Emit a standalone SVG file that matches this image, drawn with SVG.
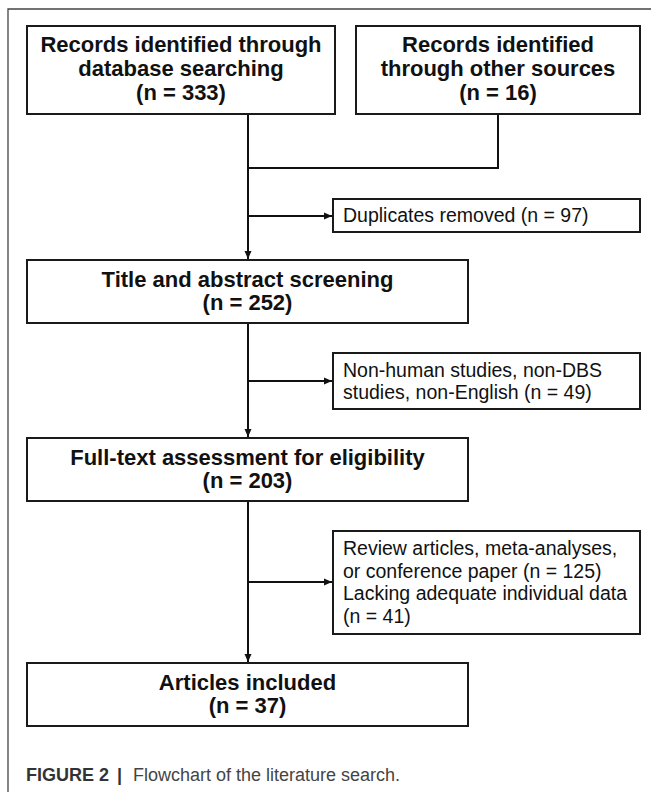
<svg xmlns="http://www.w3.org/2000/svg" width="651" height="792" viewBox="0 0 651 792">
<defs>
<style>
.box{fill:#fff;stroke:#1a1a1a;stroke-width:2}
.b{font-family:"Liberation Sans",Arial,sans-serif;font-weight:bold;font-size:22px;fill:#111;text-anchor:middle}
.r{font-family:"Liberation Sans",Arial,sans-serif;font-size:19.5px;fill:#111}
.ln{fill:none;stroke:#111;stroke-width:2}
</style>
<marker id="ah" markerUnits="userSpaceOnUse" markerWidth="9" markerHeight="8" refX="8" refY="4" orient="auto">
<path d="M0,0.5 L8,4 L0,7.5 Z" fill="#111"/>
</marker>
</defs>
<rect width="651" height="792" fill="#fff"/>
<path d="M8,792 V9 H651" fill="none" stroke="#444" stroke-width="1.3"/>

<g id="connectors">
<path class="ln" d="M248,114 V259" marker-end="url(#ah)"/>
<path class="ln" d="M498,114 V168 H248"/>
<path class="ln" d="M248,216 H332" marker-end="url(#ah)"/>
<path class="ln" d="M248,323 V437" marker-end="url(#ah)"/>
<path class="ln" d="M248,381 H332" marker-end="url(#ah)"/>
<path class="ln" d="M248,501 V662" marker-end="url(#ah)"/>
<path class="ln" d="M248,582 H332" marker-end="url(#ah)"/>
</g>

<g id="n1">
<rect class="box" x="27" y="26" width="308" height="88"/>
<text class="b" x="181" y="52">Records identified through</text>
<text class="b" x="181" y="76">database searching</text>
<text class="b" x="181" y="100">(n = 333)</text>
</g>
<g id="n2">
<rect class="box" x="356" y="26" width="284" height="88"/>
<text class="b" x="498" y="52">Records identified</text>
<text class="b" x="498" y="76">through other sources</text>
<text class="b" x="498" y="100">(n = 16)</text>
</g>
<g id="n3">
<rect class="box" x="333" y="199" width="307" height="33"/>
<text class="r" x="343" y="222">Duplicates removed (n = 97)</text>
</g>
<g id="n4">
<rect class="box" x="27" y="260" width="441" height="63"/>
<text class="b" x="247.5" y="287">Title and abstract screening</text>
<text class="b" x="247.5" y="310">(n = 252)</text>
</g>
<g id="n5">
<rect class="box" x="333" y="353" width="307" height="56"/>
<text class="r" x="343" y="377">Non-human studies, non-DBS</text>
<text class="r" x="343" y="399">studies, non-English (n = 49)</text>
</g>
<g id="n6">
<rect class="box" x="27" y="438" width="441" height="63"/>
<text class="b" x="247.5" y="465">Full-text assessment for eligibility</text>
<text class="b" x="247.5" y="488">(n = 203)</text>
</g>
<g id="n7">
<rect class="box" x="333" y="531" width="307" height="103"/>
<text class="r" x="343" y="555">Review articles, meta-analyses,</text>
<text class="r" x="343" y="577.5">or conference paper (n = 125)</text>
<text class="r" x="343" y="600">Lacking adequate individual data</text>
<text class="r" x="343" y="622.5">(n = 41)</text>
</g>
<g id="n8">
<rect class="box" x="27" y="663" width="441" height="63"/>
<text class="b" x="247.5" y="690">Articles included</text>
<text class="b" x="247.5" y="713">(n = 37)</text>
</g>

<g id="caption" font-family="'Liberation Sans',Arial,sans-serif" font-size="18">
<text x="26" y="781" font-weight="bold" fill="#333">FIGURE 2</text>
<text x="117" y="781" font-weight="bold" fill="#333">|</text>
<text x="133" y="781" fill="#444">Flowchart of the literature search.</text>
</g>
</svg>
